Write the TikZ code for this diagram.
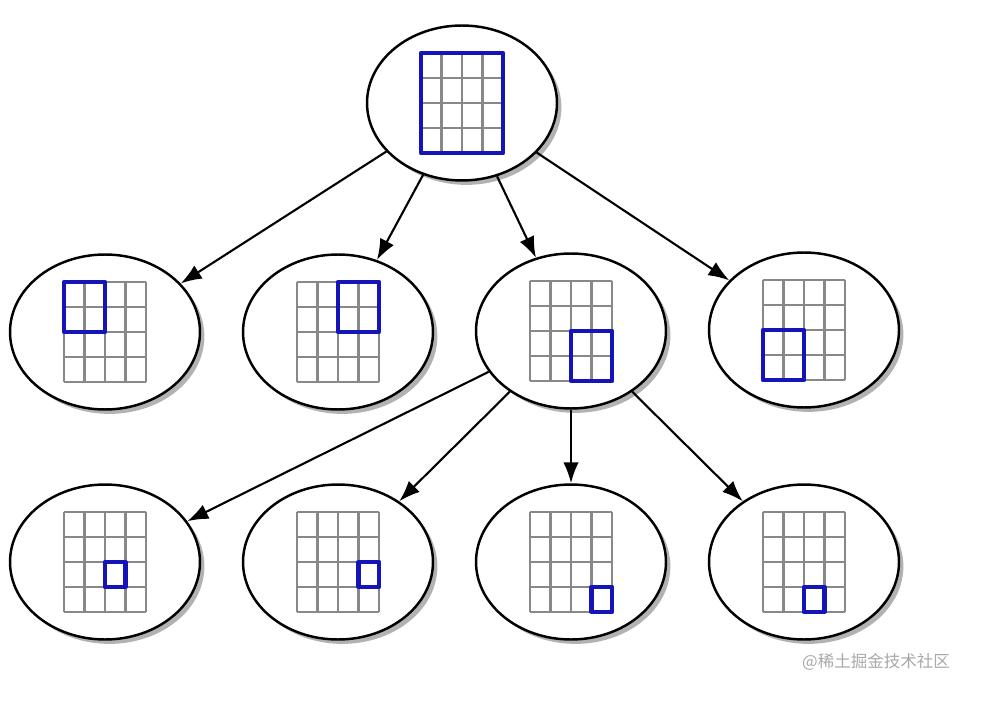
\documentclass[tikz,border=0pt]{standalone}
\usepackage{fontspec}
\usepackage{xcolor}
\usepackage{tikz}
\usetikzlibrary{arrows.meta,shapes.geometric,shadows}
\newfontfamily\cjkfont{Noto Sans CJK SC}
\definecolor{tileBlue}{HTML}{1414B8}
\definecolor{tileGray}{HTML}{888888}
\definecolor{markGray}{HTML}{A8A8A8}

% grid of 4x4 cells in a node, with one block drawn in blue
\newcommand{\cellgrid}[5]{%
  \begin{scope}[shift={(#1.center)}]
    \foreach \i in {0,...,4} {
      \draw[gridline] (-41+20.5*\i,-50) -- (-41+20.5*\i,50);
      \draw[gridline] (-41,-50+25*\i) -- (41,-50+25*\i);
    }
    \draw[blockline] (-41+20.5*#2,-50+25*#3) rectangle (-41+20.5*#4,-50+25*#5);
  \end{scope}}

\begin{document}
\begin{tikzpicture}[
  x=0.02cm,y=-0.02cm,
  tile/.style={ellipse,draw=black,fill=white,line width=1.4pt,minimum width=3.8cm,minimum height=3.1cm,
    drop shadow={shadow xshift=2.5pt,shadow yshift=-2.5pt,opacity=0.3,fill=black}},
  gridline/.style={draw=tileGray,line width=1.3pt},
  blockline/.style={draw=tileBlue,line width=2.4pt,line join=round},
  arrow/.style={-{Latex[length=4.2mm,width=3.1mm]},line width=1.2pt,color=black}
]
\useasboundingbox (0,0) rectangle (989,705);

\node[tile] (root) at (462,103) {};
\node[tile] (m1) at (105,332) {};
\node[tile] (m2) at (338,332) {};
\node[tile] (m3) at (571,331) {};
\node[tile] (m4) at (804,330) {};
\node[tile] (b1) at (105,562) {};
\node[tile] (b2) at (338,562) {};
\node[tile] (b3) at (571,562) {};
\node[tile] (b4) at (804,562) {};

\cellgrid{root}{0}{0}{4}{4}
\cellgrid{m1}{0}{0}{2}{2}
\cellgrid{m2}{2}{0}{4}{2}
\cellgrid{m3}{2}{2}{4}{4}
\cellgrid{m4}{0}{2}{2}{4}
\cellgrid{b1}{2}{2}{3}{3}
\cellgrid{b2}{3}{2}{4}{3}
\cellgrid{b3}{3}{3}{4}{4}
\cellgrid{b4}{2}{3}{3}{4}

\draw[arrow] (root) -- (m1);
\draw[arrow] (root) -- (m2);
\draw[arrow] (root) -- (m3);
\draw[arrow] (root) -- (m4);
\draw[arrow] (m3) -- (b1);
\draw[arrow] (m3) -- (b2);
\draw[arrow] (m3) -- (b3);
\draw[arrow] (m3) -- (b4);

\node[text=markGray,font=\cjkfont\fontsize{9.4}{11}\selectfont,anchor=west] (mark) at (796,662) {@稀土掘金技术社区};
\end{tikzpicture}
\end{document}
